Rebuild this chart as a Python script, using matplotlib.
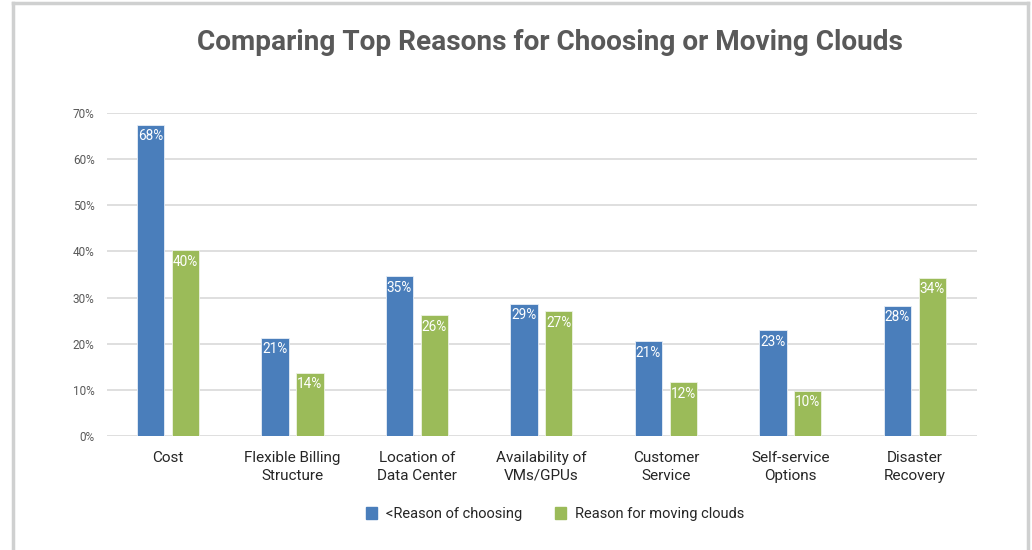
import numpy as np
import matplotlib.pyplot as plt
from matplotlib.lines import Line2D
from matplotlib.patches import Patch

plt.rcParams['font.family'] = ['Roboto', 'DejaVu Sans']

categories = ['Cost', 'Flexible Billing\nStructure', 'Location of\nData Center',
              'Availability of\nVMs/GPUs', 'Customer\nService', 'Self-service\nOptions',
              'Disaster\nRecovery']
choosing = [67.5, 21.3, 34.6, 28.7, 20.5, 22.9, 28.2]
moving = [40.3, 13.7, 26.2, 27.0, 11.7, 9.8, 34.3]
choosing_lbl = [68, 21, 35, 29, 21, 23, 28]
moving_lbl = [40, 14, 26, 27, 12, 10, 34]
yticks = [0, 10, 20, 30, 40, 50, 60, 70]

blue = '#4a7ebb'
green = '#9bbb59'

fig = plt.figure(figsize=(10.32, 5.5), dpi=100)
ax = fig.add_axes([107/1032, 1-436/550, (977-107)/1032, (436-113)/550])

x = np.arange(len(categories))
w = 0.22
off = 0.14
b1 = ax.bar(x - off, choosing, w, color=blue, edgecolor='#e8eef7', linewidth=0.6, zorder=3)
b2 = ax.bar(x + off, moving, w, color=green, edgecolor='#eef3e4', linewidth=0.6, zorder=3)

for bars, lbls in ((b1, choosing_lbl), (b2, moving_lbl)):
    for r, l in zip(bars, lbls):
        ax.text(r.get_x() + r.get_width()/2, r.get_height() - 1.0, f'{l}%',
                ha='center', va='top', color='white', fontsize=9.8, zorder=4)

ax.set_xlim(-0.49, 6.5)
ax.set_ylim(0, 70)
ax.set_yticks(yticks)
ax.set_yticklabels([f'{v}%' for v in yticks], color='#595959', fontsize=8.5)
ax.set_xticks(x)
ax.set_xticklabels(categories, fontsize=11, color='#262626', linespacing=1.3)
ax.tick_params(axis='both', length=0)
ax.tick_params(axis='x', pad=11)
ax.tick_params(axis='y', pad=9)
ax.grid(axis='y', color='#d9d9d9', linewidth=1.2, zorder=0)
for s in ax.spines.values():
    s.set_visible(False)

fig.text(550/1032, 1-42/550, 'Comparing Top Reasons for Choosing or Moving Clouds',
         ha='center', va='center', fontsize=20.2, fontweight='bold', color='#595959')

handles = [Patch(color=blue), Patch(color=green)]
fig.legend(handles, ['<Reason of choosing', 'Reason for moving clouds'],
           loc='center', bbox_to_anchor=(555/1032, 1-514/550), ncol=2, frameon=False,
           fontsize=10.5, handlelength=0.8, handleheight=0.8, columnspacing=2.2,
           handletextpad=0.6, labelcolor='#262626')

# grey frame around the chart (no bottom edge)
frame = dict(color='#cfd0d0', linewidth=2.5, transform=fig.transFigure)
fig.add_artist(Line2D([12.5/1032, 12.5/1032], [0, 1-3/550], **frame))
fig.add_artist(Line2D([1027.5/1032, 1027.5/1032], [0, 1-3/550], **frame))
fig.add_artist(Line2D([12.5/1032, 1027.5/1032], [1-3/550, 1-3/550], **frame))

fig.savefig('out.png', dpi=100)
